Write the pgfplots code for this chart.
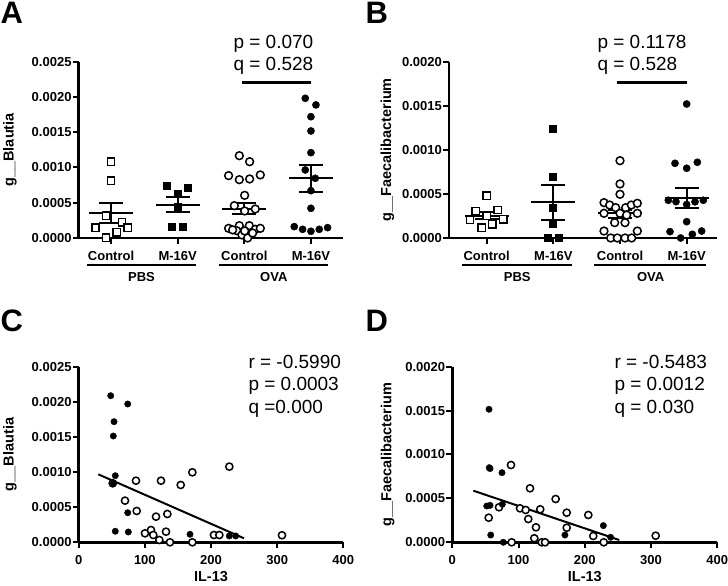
\documentclass[border=0pt]{standalone}
\usepackage{fontspec}
\setmainfont{Liberation Sans}
\usepackage{pgfplots}
\pgfplotsset{compat=1.18}

\newcommand{\tickfont}{\fontsize{13}{15}\selectfont\bfseries}
\newcommand{\labfont}{\fontsize{14.5}{16}\selectfont\bfseries}
\newcommand{\statfont}{\fontsize{19}{22}\selectfont}
\newcommand{\letterfont}{\fontsize{31}{33}\selectfont\bfseries}

\pgfplotsset{
  panel/.style={
    scale only axis, clip=false,
    axis x line=bottom, axis y line=left,
    axis line style={-, line width=2.6pt},
    tick align=outside,
    major tick length=6pt,
    tick style={line width=2pt, black},
    tick label style={font=\tickfont},
    yticklabel style={inner sep=1pt},
    xticklabel style={yshift=-4pt},
    label style={font=\labfont},
    scaled y ticks=false, scaled x ticks=false,
    anchor=south west,
  },
  catpanel/.style={
    xtick={1,2,3,4},
    xticklabels={Control,M-16V,Control,M-16V},
  },
  opensq/.style={only marks, mark=square*, mark size=3.6pt, mark options={fill=white, draw=black, line width=1.5pt}},
  fillsq/.style={only marks, mark=square*, mark size=3.6pt, mark options={fill=black, draw=black, line width=1pt}},
  opencirc/.style={only marks, mark=*, mark size=3.9pt, mark options={fill=white, draw=black, line width=1.5pt}},
  fillcirc/.style={only marks, mark=*, mark size=3.6pt, mark options={fill=black, draw=black}},
  meanln/.style={black, line width=2pt, no marks},
}

\begin{document}
\begin{tikzpicture}[x=1pt,y=1pt]
\path[use as bounding box] (0,0) rectangle (728,586);

% ---------------- Panel A ----------------
\begin{axis}[panel, catpanel, at={(78.7pt,348pt)},
  width=264.6pt, height=176.3pt,
  xmin=0.514, xmax=4.486, ymin=0, ymax=0.0025,
  ytick={0,0.0005,0.001,0.0015,0.002,0.0025},
  yticklabels={0.0000,0.0005,0.0010,0.0015,0.0020,0.0025},
  ylabel={g\_\_Blautia},
  ylabel style={at={(axis description cs:-0.26,0.5)}, anchor=center},
]
\addplot[opensq] coordinates {(1.0,0.001082) (1.0,0.000813) (0.925,0.000316) (1.165,0.000223) (0.764,0.000146) (1.251,0.000146) (1.086,0.000081) (0.925,0.000004)};
\addplot[fillsq] coordinates {(1.835,0.000742) (2.16,0.000705) (2.0,0.000624) (2.0,0.000435) (1.92,0.000160) (2.075,0.000160)};
\addplot[opencirc] coordinates {(2.925,0.001167) (3.08,0.001082) (2.764,0.000884) (2.925,0.000827) (3.08,0.000837) (3.24,0.000894) (3.005,0.000605) (2.85,0.000458) (3.005,0.000383) (3.165,0.000411) (2.764,0.000137) (2.925,0.000175) (3.075,0.000175) (2.885,0.000104) (3.165,0.000123) (3.24,0.000137) (2.965,0.000043) (3.05,0.0) (2.825,0.000115) (3.005,0.000100) (3.125,0.000070)};
\addplot[fillcirc] coordinates {(3.915,0.001981) (4.075,0.001887) (4.0,0.001720) (4.0,0.001518) (4.0,0.001210) (3.915,0.000965) (4.065,0.000847) (4.0,0.000671) (4.0,0.000421) (3.75,0.000161) (3.875,0.000123) (4.0,0.000095) (4.125,0.000123) (4.25,0.000147)};
% mean and SEM
\addplot[meanln] coordinates {(0.67,0.000351) (1.33,0.000351)};
\addplot[meanln] coordinates {(0.82,0.000492) (1.18,0.000492)};
\addplot[meanln] coordinates {(0.82,0.000210) (1.18,0.000210)};
\addplot[meanln] coordinates {(1,0.000210) (1,0.000492)};
\addplot[meanln] coordinates {(1.67,0.000471) (2.33,0.000471)};
\addplot[meanln] coordinates {(1.82,0.000577) (2.18,0.000577)};
\addplot[meanln] coordinates {(1.82,0.000364) (2.18,0.000364)};
\addplot[meanln] coordinates {(2,0.000364) (2,0.000577)};
\addplot[meanln] coordinates {(2.67,0.000411) (3.33,0.000411)};
\addplot[meanln] coordinates {(2.82,0.000492) (3.18,0.000492)};
\addplot[meanln] coordinates {(2.82,0.000340) (3.18,0.000340)};
\addplot[meanln] coordinates {(3,0.000340) (3,0.000492)};
\addplot[meanln] coordinates {(3.67,0.000847) (4.33,0.000847)};
\addplot[meanln] coordinates {(3.82,0.001035) (4.18,0.001035)};
\addplot[meanln] coordinates {(3.82,0.000657) (4.18,0.000657)};
\addplot[meanln] coordinates {(4,0.000657) (4,0.001035)};
\end{axis}

% ---------------- Panel B ----------------
\begin{axis}[panel, catpanel, at={(449pt,348pt)},
  width=268pt, height=176.3pt,
  xmin=0.435, xmax=4.455, ymin=0, ymax=0.002,
  ytick={0,0.0005,0.001,0.0015,0.002},
  yticklabels={0.0000,0.0005,0.0010,0.0015,0.0020},
  ylabel={g\_\_Faecalibacterium},
  ylabel style={at={(axis description cs:-0.23,0.5)}, anchor=center},
]
\addplot[opensq] coordinates {(1.0,0.000480) (0.835,0.000306) (1.165,0.000318) (0.75,0.000204) (1.25,0.000212) (0.925,0.000117) (1.085,0.000155) (1.0,0.000250)};
\addplot[fillsq] coordinates {(2.0,0.001236) (2.0,0.000696) (2.0,0.000344) (2.0,0.000159) (1.925,0.0) (2.085,0.0)};
\addplot[opencirc] coordinates {(3.0,0.000877) (3.0,0.000613) (3.0,0.000496) (2.76,0.000401) (2.845,0.000374) (2.935,0.000344) (3.085,0.000344) (3.17,0.000374) (3.26,0.000394) (2.76,0.000280) (3.26,0.000280) (3.0,0.000280) (3.1,0.000260) (2.92,0.000174) (3.075,0.000174) (2.76,0.000079) (3.26,0.000079) (2.86,0.0) (2.96,0.0) (3.075,0.0) (3.175,0.0)};
\addplot[fillcirc] coordinates {(4.0,0.001520) (3.825,0.000847) (4.16,0.000859) (4.0,0.000791) (3.725,0.000428) (3.84,0.000412) (4.0,0.000380) (4.125,0.000410) (4.25,0.000428) (4.0,0.000185) (3.75,0.000072) (4.085,0.000042) (4.225,0.000079) (3.91,0.0)};
\addplot[meanln] coordinates {(0.67,0.000255) (1.33,0.000255)};
\addplot[meanln] coordinates {(0.82,0.000295) (1.18,0.000295)};
\addplot[meanln] coordinates {(0.82,0.000215) (1.18,0.000215)};
\addplot[meanln] coordinates {(1,0.000215) (1,0.000295)};
\addplot[meanln] coordinates {(1.67,0.000405) (2.33,0.000405)};
\addplot[meanln] coordinates {(1.82,0.000598) (2.18,0.000598)};
\addplot[meanln] coordinates {(1.82,0.000208) (2.18,0.000208)};
\addplot[meanln] coordinates {(2,0.000208) (2,0.000598)};
\addplot[meanln] coordinates {(2.67,0.000280) (3.33,0.000280)};
\addplot[meanln] coordinates {(2.82,0.000318) (3.18,0.000318)};
\addplot[meanln] coordinates {(2.82,0.000230) (3.18,0.000230)};
\addplot[meanln] coordinates {(3,0.000230) (3,0.000318)};
\addplot[meanln] coordinates {(3.67,0.000450) (4.33,0.000450)};
\addplot[meanln] coordinates {(3.82,0.000571) (4.18,0.000571)};
\addplot[meanln] coordinates {(3.82,0.000344) (4.18,0.000344)};
\addplot[meanln] coordinates {(4,0.000344) (4,0.000571)};
\end{axis}

% ---------------- Panel C ----------------
\begin{axis}[panel, at={(78.7pt,43.7pt)},
  width=264.6pt, height=175.6pt,
  xmin=0, xmax=400, ymin=0, ymax=0.0025,
  xtick={0,100,200,300,400}, xticklabels={0,100,200,300,400},
  ytick={0,0.0005,0.001,0.0015,0.002,0.0025},
  yticklabels={0.0000,0.0005,0.0010,0.0015,0.0020,0.0025},
  ylabel={g\_\_Blautia}, xlabel={IL-13},
  ylabel style={at={(axis description cs:-0.26,0.5)}, anchor=center},
  xlabel style={at={(axis description cs:0.5,-0.196)}, anchor=center},
  opencirc/.append style={mark size=3.6pt},
  fillcirc/.append style={mark size=3.2pt},
]
\addplot[opencirc] coordinates {(51.4,0.000840) (86.6,0.000877) (124.4,0.000877) (154.2,0.000816) (171.8,0.000996) (227.7,0.001077) (70,0.000593) (87.7,0.000446) (116.9,0.000365) (134,0.000403) (100.2,0.000128) (109.3,0.000175) (112.8,0.000104) (132,0.000151) (121.9,0.000033) (138,0.0) (171.8,0.0) (204.5,0.000104) (212.6,0.000104) (307.3,0.000100)};
\addplot[fillcirc] coordinates {(48.4,0.002087) (74.1,0.001969) (53.4,0.001717) (52.3,0.001513) (55.3,0.000948) (52.3,0.000840) (74.1,0.000421) (55.3,0.000157) (75,0.000147) (168.3,0.000114) (227.7,0.000090) (237.3,0.000090)};
\addplot[black, line width=2pt, no marks] coordinates {(29.6,0.000968) (249.9,0.000057)};
\end{axis}

% ---------------- Panel D ----------------
\begin{axis}[panel, at={(452.3pt,43.7pt)},
  width=265pt, height=175.6pt,
  xmin=0, xmax=400, ymin=0, ymax=0.002,
  xtick={0,100,200,300,400}, xticklabels={0,100,200,300,400},
  ytick={0,0.0005,0.001,0.0015,0.002},
  yticklabels={0.0000,0.0005,0.0010,0.0015,0.0020},
  ylabel={g\_\_Faecalibacterium}, xlabel={IL-13},
  ylabel style={at={(axis description cs:-0.244,0.5)}, anchor=center},
  xlabel style={at={(axis description cs:0.5,-0.196)}, anchor=center},
  opencirc/.append style={mark size=3.6pt},
  fillcirc/.append style={mark size=3.2pt},
]
\addplot[opencirc] coordinates {(88.6,0.000880) (117.3,0.000615) (156,0.000493) (70.5,0.000399) (102.2,0.000387) (110.8,0.000368) (132.7,0.000376) (172.7,0.000337) (205.3,0.000311) (54.9,0.000280) (114.7,0.000265) (126.3,0.000171) (172.7,0.000166) (212.8,0.000072) (123.8,0.000046) (135,0.0) (140,0.0) (89.6,0.0) (228.6,0.0) (307,0.000075)};
\addplot[fillcirc] coordinates {(55.4,0.001515) (55.8,0.000850) (57,0.000840) (75,0.000793) (52,0.000413) (57,0.000421) (75.5,0.000433) (58,0.000083) (77,0.0) (170,0.000083) (228,0.000190) (239,0.000057)};
\addplot[black, line width=2pt, no marks] coordinates {(31.7,0.000588) (252,0.000026)};
\end{axis}

% ---------------- annotations ----------------
% panel letters
\node[anchor=base west, inner sep=0pt, font=\letterfont] at (0.5,562) {A};
\node[anchor=base west, inner sep=0pt, font=\letterfont] at (365.5,562) {B};
\node[anchor=base west, inner sep=0pt, font=\letterfont] at (0.5,254.3) {C};
\node[anchor=base west, inner sep=0pt, font=\letterfont] at (365.5,254.3) {D};

% stats text
\node[anchor=base west, inner sep=0pt, font=\statfont] at (233.3,537.5) {p = 0.070};
\node[anchor=base west, inner sep=0pt, font=\statfont] at (233.3,515.2) {q = 0.528};
\draw[line width=2.6pt] (241.7,503.3) -- (310.7,503.3);
\node[anchor=base west, inner sep=0pt, font=\statfont] at (597.3,537.5) {p = 0.1178};
\node[anchor=base west, inner sep=0pt, font=\statfont] at (597.3,515.2) {q = 0.528};
\draw[line width=2.6pt] (617.3,503.3) -- (687.3,503.3);

\node[anchor=base west, inner sep=0pt, font=\statfont] at (248.3,217.2) {r = -0.5990};
\node[anchor=base west, inner sep=0pt, font=\statfont] at (248.3,195.2) {p = 0.0003};
\node[anchor=base west, inner sep=0pt, font=\statfont] at (248.3,172) {q =0.000};
\node[anchor=base west, inner sep=0pt, font=\statfont] at (614.3,217.2) {r = -0.5483};
\node[anchor=base west, inner sep=0pt, font=\statfont] at (614.3,195.2) {p = 0.0012};
\node[anchor=base west, inner sep=0pt, font=\statfont] at (614.3,172) {q = 0.030};

% group lines and labels
\draw[line width=2.6pt] (87.3,321) -- (195.7,321);
\draw[line width=2.6pt] (219.3,321) -- (328.3,321);
\node[anchor=base, inner sep=0pt, font=\tickfont] at (141.5,304.7) {PBS};
\node[anchor=base, inner sep=0pt, font=\tickfont] at (273.8,304.7) {OVA};
\draw[line width=2.6pt] (462.3,321) -- (572.3,321);
\draw[line width=2.6pt] (594,321) -- (705.7,321);
\node[anchor=base, inner sep=0pt, font=\tickfont] at (517.3,304.7) {PBS};
\node[anchor=base, inner sep=0pt, font=\tickfont] at (650.7,304.7) {OVA};
\end{tikzpicture}
\end{document}
